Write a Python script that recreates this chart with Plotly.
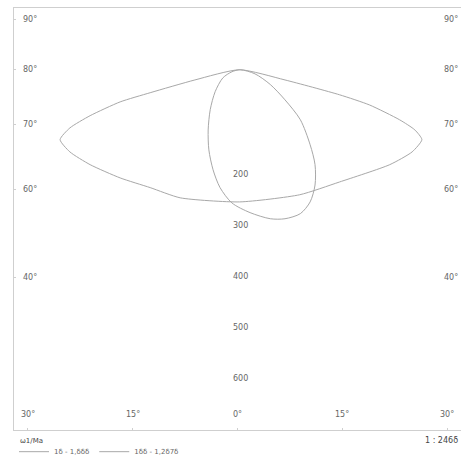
import plotly.graph_objects as go

# ---- data ----
# x: longitude in degrees, y: vertical scale (same units as the centre labels 200..600)
lens_x = [-25.4, -24.0, -21.1, -16.8, -12.5, -6.1, 0.3, 6.8, 14.6, 18.9, 23.2, 25.4, 26.4,
          25.0, 21.8, 14.6, 8.9, 0.3, -8.2, -12.5, -16.8, -21.1, -24.0, -25.4]
lens_y = [131, 108, 84, 57, 39, 14, -6, 14, 43, 63, 92, 112, 131,
          155, 180, 214, 239, 253, 245, 225, 206, 180, 155, 131]

ell_x = [0.4, -0.8, -2.1, -3.2, -3.9, -4.2, -4.1, -3.5, -2.5, -0.8, 1.8, 4.7, 6.8, 9.0,
         10.4, 11.1, 11.1, 10.4, 9.0, 6.8, 4.7, 2.5, 0.4]
ell_y = [-6, -2, 10, 37, 72, 112, 151, 190, 225, 255, 274, 286, 286, 276,
         253, 220, 180, 141, 92, 53, 23, 2, -6]

series_names = ["1δ - 1,δδδ", "1δδ - 1,2δ7δ"]
legend_title = "ω1/Ma"
scale_text = "1 : 246δ"

lat_vals = [-104, -6, 102, 229, 402]
lat_text = ["90°", "80°", "70°", "60°", "40°"]
lon_vals = [-30, -15, 0, 15, 30]
lon_text = ["30°", "15°", "0°", "15°", "30°"]
lon_label_level = 670
level_vals = [200, 300, 400, 500, 600]
level_text = ["200", "300", "400", "500", "600"]

GREY = "#a8a8a8"
TXT = "#666666"
FONT = "DejaVu Sans"
FS = 8

fig = go.Figure()
fig.add_trace(go.Scatter(x=lens_x, y=lens_y, mode="lines", name=series_names[0],
                         line=dict(color=GREY, width=1, shape="spline", smoothing=0.6)))
fig.add_trace(go.Scatter(x=ell_x, y=ell_y, mode="lines", name=series_names[1],
                         line=dict(color=GREY, width=1, shape="spline", smoothing=0.8)))

def label(**kw):
    fig.add_annotation(showarrow=False, font=dict(size=FS, color=TXT, family=FONT), **kw)

for v, t in zip(level_vals, level_text):
    label(x=0.5, y=v, text=t, xanchor="center")

# latitude labels on both sides (inside the frame)
for v, t in zip(lat_vals, lat_text):
    label(x=0.015, xref="paper", y=v, text=t, xanchor="left")
    label(x=0.998, xref="paper", y=v, text=t, xanchor="right")

# bottom longitude labels (inside the frame)
for v, t in zip(lon_vals, lon_text):
    label(x=v, y=lon_label_level, text=t, xanchor="center")

# legend title and scale text below the frame
fig.add_annotation(x=0.01, y=-0.026, xref="paper", yref="paper", text=legend_title,
                   showarrow=False, xanchor="left", yanchor="middle",
                   font=dict(size=7, color="#444444", family=FONT))
fig.add_annotation(x=0.998, y=-0.026, xref="paper", yref="paper", text=scale_text,
                   showarrow=False, xanchor="right", yanchor="middle",
                   font=dict(size=8, color="#444444", family=FONT))

axis_common = dict(showgrid=False, zeroline=False, showline=True, linecolor="#cfcfcf",
                   linewidth=1, ticks="inside", ticklen=2, tickcolor="#cfcfcf",
                   automargin=False, mirror=True, showticklabels=False)

fig.update_layout(
    width=461, height=461,
    margin=dict(l=14, r=0, t=8, b=31, autoexpand=False),
    paper_bgcolor="white", plot_bgcolor="white",
    font=dict(family=FONT, size=FS, color=TXT),
    xaxis=dict(range=[-32, 32], tickvals=lon_vals, **axis_common),
    yaxis=dict(range=[700, -127], tickvals=lat_vals, **axis_common),
    showlegend=True,
    legend=dict(orientation="h", x=0.0, xanchor="left", y=-0.017, yanchor="top",
                font=dict(size=7, color=TXT, family=FONT), itemwidth=30,
                tracegroupgap=0, bgcolor="rgba(0,0,0,0)"),
)

fig.write_html("out.html", config={"displayModeBar": False},
               post_script="document.body.style.margin='0';document.body.style.overflow='hidden';")
